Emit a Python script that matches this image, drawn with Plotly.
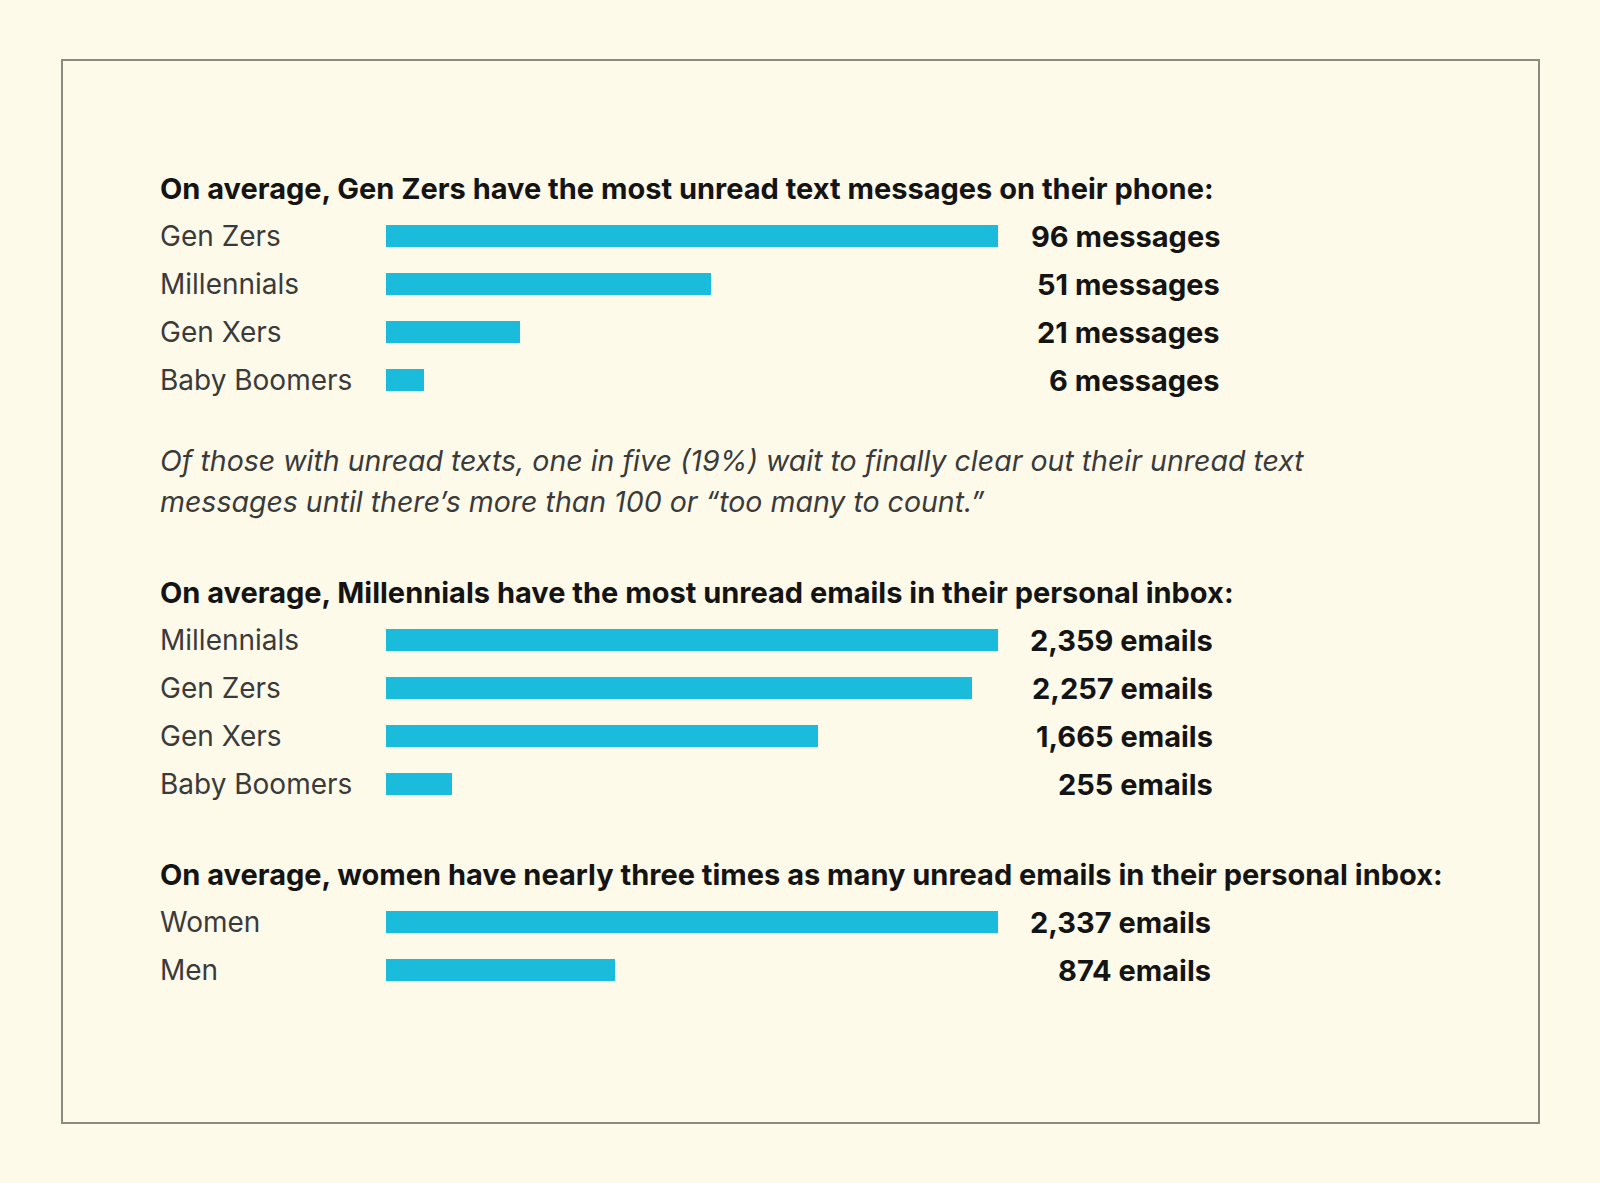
import plotly.graph_objects as go

W, H = 1600, 1183

# --- data ---
text_groups = ["Gen Zers", "Millennials", "Gen Xers", "Baby Boomers"]
text_counts = [96, 51, 21, 6]
text_labels = ["96 messages", "51 messages", "21 messages", "6 messages"]

email_groups = ["Millennials", "Gen Zers", "Gen Xers", "Baby Boomers"]
email_counts = [2359, 2257, 1665, 255]
email_labels = ["2,359 emails", "2,257 emails", "1,665 emails", "255 emails"]

gender_groups = ["Women", "Men"]
gender_counts = [2337, 874]
gender_labels = ["2,337 emails", "874 emails"]

titles = [
    "On average, Gen Zers have the most unread text messages on their phone:",
    "On average, Millennials have the most unread emails in their personal inbox:",
    "On average, women have nearly three times as many unread emails in their personal inbox:",
]
note_lines = [
    "Of those with unread texts, one in five (19%) wait to finally clear out their unread text",
    "messages until there\u2019s more than 100 or \u201ctoo many to count.\u201d",
]

BAR = "#1bbcdb"
BG = "#fdfaea"
DARK = "#141414"
GREY = "#3a3a3a"
FONT = "Inter"

# pixel layout helpers
def px(x):
    return x / W

def py(y):
    return 1 - y / H

ROW = 48
# (groups, counts, labels, title y, first row y, value right edge)
sections = [
    (text_groups, text_counts, text_labels, 188, 236, 1222),
    (email_groups, email_counts, email_labels, 592, 640, 1215),
    (gender_groups, gender_counts, gender_labels, 874, 922, 1213),
]

fig = go.Figure()
annotations = []
layout_axes = {}

for i, (groups, counts, labels, title_y, row0, val_x) in enumerate(sections):
    n = "" if i == 0 else str(i + 1)
    fig.add_trace(go.Bar(x=counts, y=groups, orientation="h", width=0.44,
                         marker=dict(color=BAR, line=dict(width=0)),
                         xaxis="x" + n, yaxis="y" + n, hoverinfo="x+y"))
    top = row0 - ROW / 2
    bottom = row0 + ROW * (len(groups) - 0.5)
    layout_axes["xaxis" + n] = dict(domain=[px(386), px(998)], range=[0, max(counts)],
                                    visible=False, anchor="y" + n, fixedrange=True)
    layout_axes["yaxis" + n] = dict(domain=[py(bottom), py(top)], type="category",
                                    range=[len(groups) - 0.5, -0.5], visible=False,
                                    anchor="x" + n, fixedrange=True)
    annotations.append(dict(text="<b>" + titles[i] + "</b>", xref="paper", yref="paper",
                            x=px(158), y=py(title_y), xanchor="left", yanchor="middle",
                            showarrow=False, font=dict(size=29, color=DARK, family=FONT)))
    for g, lab in zip(groups, labels):
        annotations.append(dict(text=g, xref="paper", yref="y" + n, x=px(158), y=g,
                                xanchor="left", yanchor="middle", showarrow=False,
                                font=dict(size=28, color=GREY, family=FONT)))
        annotations.append(dict(text="<b>" + lab + "</b>", xref="paper", yref="y" + n,
                                x=px(val_x), y=g, xanchor="right", yanchor="middle",
                                showarrow=False, font=dict(size=29, color=DARK, family=FONT)))

for k, line in enumerate(note_lines):
    annotations.append(dict(text="<i>" + line + "</i>", xref="paper", yref="paper",
                            x=px(158), y=py(460 + 41 * k), xanchor="left", yanchor="middle",
                            showarrow=False, font=dict(size=28.5, color=GREY, family=FONT)))

fig.update_layout(
    width=W, height=H,
    margin=dict(l=0, r=0, t=0, b=0),
    paper_bgcolor=BG, plot_bgcolor="rgba(0,0,0,0)",
    showlegend=False, bargap=0,
    annotations=annotations,
    shapes=[dict(type="rect", xref="paper", yref="paper",
                 x0=px(62), x1=px(1539), y0=py(1123), y1=py(60),
                 line=dict(color="#8a8a7e", width=2), fillcolor="rgba(0,0,0,0)", layer="below")],
    **layout_axes,
)

fig.write_html("out.html", config={"displayModeBar": False},
               post_script="document.body.style.margin='0';")
